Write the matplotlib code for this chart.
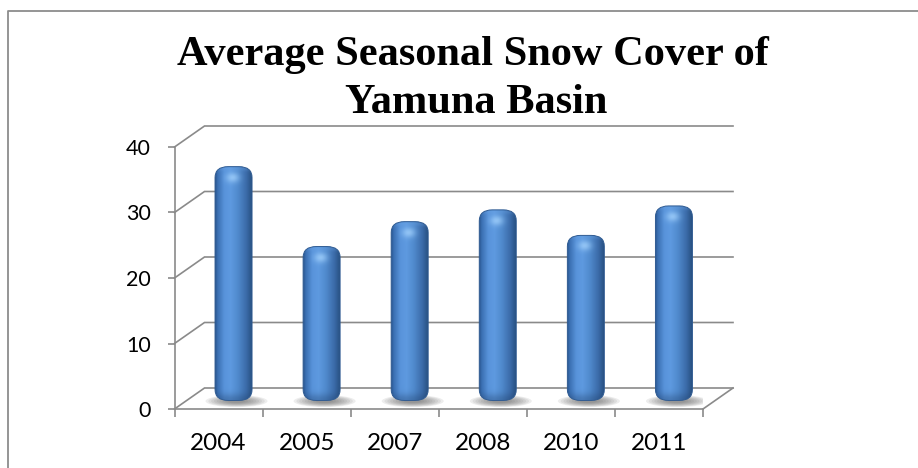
import numpy as np
import matplotlib
matplotlib.use('Agg')
import matplotlib.pyplot as plt
from matplotlib.patches import FancyBboxPatch, Ellipse
from matplotlib.lines import Line2D
from matplotlib.colors import to_rgb

# ---------------- data ----------------
years = ['2004', '2005', '2007', '2008', '2010', '2011']
snow_cover = [35.1, 22.9, 26.7, 28.5, 24.6, 29.1]
y_ticks = [0, 10, 20, 30, 40]
title_lines = ['Average Seasonal Snow Cover of', 'Yamuna Basin']

# ---------------- layout ----------------
W, H = 918, 468
fig = plt.figure(figsize=(W / 100, H / 100), dpi=100)
fig.patch.set_facecolor('white')

grey = '#8a8a8a'
# outer chart frame (only top and left visible)
fig.add_artist(Line2D([8 / W, 8 / W, 1.0], [0, 1 - 11 / H, 1 - 11 / H],
                      transform=fig.transFigure, color='#8c8c8c', lw=1.3))

# title
title_font = dict(family='Liberation Serif', weight='bold', size=30.5,
                  ha='center', va='baseline', color='black')
fig.text(473 / W, 1 - 65 / H, title_lines[0], **title_font)
fig.text(476 / W, 1 - 113 / H, title_lines[1], **title_font)

ax_left, ax_bottom, ax_w, ax_h = 174.5, 409, 528.5, 262
ax = fig.add_axes([ax_left / W, (H - ax_bottom) / H, ax_w / W, ax_h / H])
n = len(years)
ax.set_xlim(-0.5, n - 0.5)
ax.set_ylim(y_ticks[0], y_ticks[-1])
ax.patch.set_alpha(0)
for s in ['top', 'right']:
    ax.spines[s].set_visible(False)
for s in ['left', 'bottom']:
    ax.spines[s].set_color(grey)
    ax.spines[s].set_linewidth(1.2)
    ax.spines[s].set_zorder(1)

PX_X = ax_w / n                      # pixels per category
PX_Y = ax_h / (y_ticks[-1] - y_ticks[0])  # pixels per value unit
DX = 30 / PX_X                       # depth offset in x data units
DY = 21 / PX_Y                       # depth offset in y data units

# back wall gridlines with side-wall diagonals
for v in y_ticks:
    ax.plot([-0.5, -0.5 + DX, n - 0.5 + DX], [v, v + DY, v + DY], color=grey,
            lw=1.2, clip_on=False, zorder=1, solid_joinstyle='miter')
ax.plot([n - 0.5, n - 0.5 + DX], [0, DY], color=grey, lw=1.2, clip_on=False, zorder=1)

# ticks
ax.set_yticks(y_ticks)
ax.set_yticklabels([str(t) for t in y_ticks], family='Lato', size=15.5)
ax.tick_params(axis='y', direction='out', length=5, width=1.2, color=grey, pad=12)
ax.set_xticks(range(n))
ax.set_xticklabels(years, family='Lato', size=17.5)
ax.set_xticks(np.arange(-0.5, n, 1.0), minor=True)
ax.tick_params(axis='x', which='major', length=0, pad=17)
ax.tick_params(axis='x', which='minor', direction='out', length=6, width=1.2, color=grey)

# ---------------- cylinders ----------------
stops_t = [0.0, 0.07, 0.25, 0.42, 0.62, 0.85, 1.0]
stops_c = ['#28528a', '#3a6fb2', '#5893da', '#5e9ae0', '#508acd', '#3b6ba9', '#295283']
stops_rgb = np.array([to_rgb(c) for c in stops_c])

bw = 37 / PX_X
hrad, vrad = 13, 11                       # corner radii in pixels
rad = hrad / PX_X
m_aspect = (vrad / PX_Y) / rad
hl_rgb = np.array(to_rgb('#a8d6ff'))
dk_rgb = np.array(to_rgb('#1f3f6a'))

for i, v in enumerate(snow_cover):
    cx = i + DX / 2
    x0, x1 = cx - bw / 2, cx + bw / 2
    y0 = DY / 2 - 0.3
    y1 = DY / 2 + v + 0.3

    # floor shadow
    for k in range(9):
        s = 1 - k * 0.09
        ax.add_patch(Ellipse((cx + 3 / PX_X, DY / 2 - 0.4), 62 / PX_X * s, 12 / PX_Y * s,
                             facecolor='#5f5f5f', edgecolor='none', alpha=0.11, zorder=2))

    patch = FancyBboxPatch((x0, y0), bw, y1 - y0,
                           boxstyle=f'round,pad=0,rounding_size={rad}',
                           mutation_aspect=m_aspect,
                           facecolor='none', edgecolor='#2f5b92', lw=0.7, zorder=4)
    ax.add_patch(patch)

    # shading image
    nx = 120
    h_px = int((y1 - y0) * PX_Y)
    t = np.linspace(0, 1, nx)
    base = np.stack([np.interp(t, stops_t, stops_rgb[:, c]) for c in range(3)], axis=-1)
    img = np.repeat(base[None, :, :], h_px, axis=0)
    rows = np.arange(h_px)[:, None]          # 0 = bottom
    d_top = (h_px - 1 - rows)
    d_bot = rows
    hl = np.exp(-((d_top - 11) / 5.0) ** 2) * np.exp(-((t[None, :] - 0.48) / 0.18) ** 2)
    img = img * (1 - 0.7 * hl[..., None]) + hl_rgb * 0.7 * hl[..., None]
    rim = 0.25 * np.exp(-((d_top - 2) / 2.5) ** 2)
    rim = np.repeat(rim, nx, axis=1)
    img = img * (1 - rim[..., None]) + np.array(to_rgb('#6fa6e6')) * rim[..., None]
    dkb = 0.35 * np.exp(-(d_bot / 6.0) ** 2)
    img = img * (1 - dkb[..., None]) + dk_rgb * dkb[..., None]
    ax.imshow(img, extent=[x0, x1, y0, y1], origin='lower', aspect='auto',
              interpolation='bilinear', clip_path=patch, zorder=3)

ax.set_xlim(-0.5, n - 0.5)
ax.set_ylim(y_ticks[0], y_ticks[-1])

fig.savefig('out.png', dpi=100, facecolor='white')
